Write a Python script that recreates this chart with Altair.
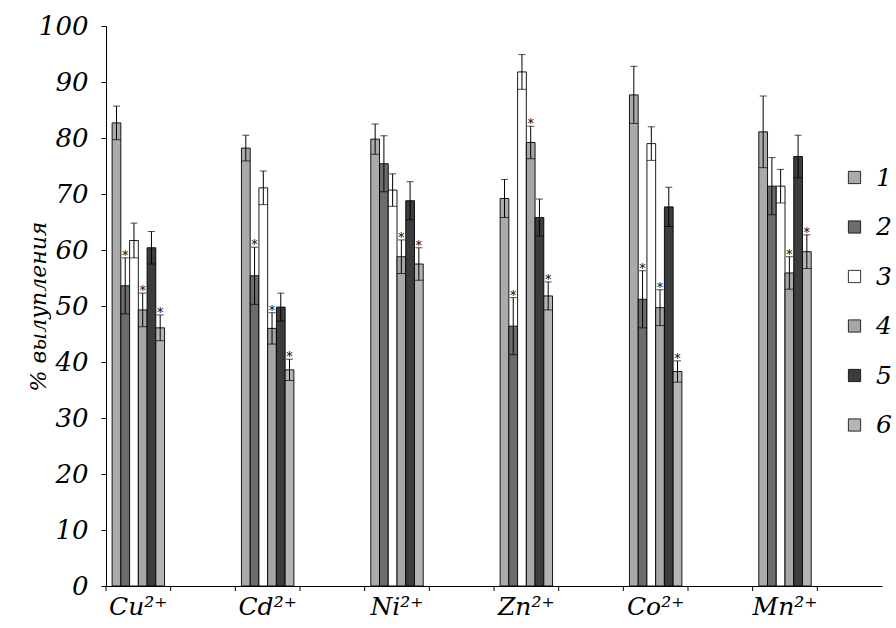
import altair as alt
import pandas as pd

metals = ["Cu²⁺", "Cd²⁺", "Ni²⁺", "Zn²⁺", "Co²⁺", "Mn²⁺"]
series = ["1", "2", "3", "4", "5", "6"]

# values per series across metals (Cu, Cd, Ni, Zn, Co, Mn)
s1 = [82.7, 78.2, 79.8, 69.2, 87.7, 81.1]
s2 = [53.6, 55.4, 75.4, 46.4, 51.2, 71.4]
s3 = [61.7, 71.1, 70.7, 91.8, 79.0, 71.4]
s4 = [49.3, 46.0, 58.8, 79.2, 49.7, 55.9]
s5 = [60.4, 49.8, 68.8, 65.8, 67.7, 76.7]
s6 = [46.1, 38.6, 57.5, 51.8, 38.3, 59.7]

e1 = [3.0, 2.3, 2.7, 3.4, 5.1, 6.4]
e2 = [5.0, 5.1, 5.0, 5.1, 5.1, 5.1]
e3 = [3.1, 3.0, 2.9, 3.1, 3.0, 3.0]
e4 = [3.0, 2.8, 3.0, 2.9, 3.2, 2.9]
e5 = [2.9, 2.5, 3.4, 3.3, 3.5, 3.8]
e6 = [2.3, 1.9, 2.9, 2.5, 1.9, 3.0]

star1 = [0, 0, 0, 0, 0, 0]
star2 = [1, 1, 0, 1, 1, 0]
star3 = [0, 0, 0, 0, 0, 0]
star4 = [1, 1, 1, 1, 1, 1]
star5 = [0, 0, 0, 0, 0, 0]
star6 = [1, 1, 1, 1, 1, 1]

colors = ["#aaaaaa", "#6c6c6c", "#ffffff", "#a6a6a6", "#3c3c3c", "#b4b4b4"]

vals = [s1, s2, s3, s4, s5, s6]
errs = [e1, e2, e3, e4, e5, e6]
stars = [star1, star2, star3, star4, star5, star6]

rows = []
for si, s in enumerate(series):
    for mi, m in enumerate(metals):
        v = vals[si][mi]
        e = errs[si][mi]
        rows.append({"cat": m, "series": s, "val": v,
                     "lo": v - e, "hi": v + e, "star": stars[si][mi]})
df = pd.DataFrame(rows)
df_star = df[df["star"] == 1].copy()

domain = []
for i, m in enumerate(metals):
    domain.append(m)
    domain.append("_" + str(i))
df_ticks = pd.DataFrame({"cat": domain})

FONT = "DejaVu Serif"

xscale = alt.Scale(domain=domain, paddingInner=0, paddingOuter=0)
xenc = alt.X("cat:N", scale=xscale,
             axis=alt.Axis(title=None, labelAngle=0, ticks=False,
                           labelExpr="indexof(datum.value, '_') == 0 ? '' : datum.value",
                           labelFont=FONT, labelFontStyle="italic", labelFontSize=25,
                           labelColor="black", labelPadding=8,
                           domainColor="black", grid=False))
xoff = alt.XOffset("series:N",
                   scale=alt.Scale(domain=series, paddingOuter=0.7, paddingInner=0))

yscale = alt.Scale(domain=[0, 100])
yaxis = alt.Axis(values=list(range(0, 101, 10)), title="% вылупления",
                 titleFont=FONT, titleFontStyle="italic", titleFontSize=22,
                 titleFontWeight="normal", titleColor="black", titlePadding=-12,
                 labelFont=FONT, labelFontStyle="italic", labelFontSize=26,
                 labelColor="black", labelPadding=13, tickSize=5,
                 tickColor="black", domainColor="black", grid=False)

bars = alt.Chart(df).mark_bar(stroke="black", strokeWidth=0.9).encode(
    x=xenc, xOffset=xoff,
    y=alt.Y("val:Q", scale=yscale, axis=yaxis),
    color=alt.Color("series:N",
                    scale=alt.Scale(domain=series, range=colors),
                    legend=alt.Legend(title=" ", titleFontSize=10, titlePadding=129,
                                      orient="right", offset=-40,
                                      symbolType="square", symbolSize=150,
                                      symbolStrokeColor="black", symbolStrokeWidth=0.8,
                                      labelFont=FONT, labelFontStyle="italic",
                                      labelFontSize=25, labelColor="black",
                                      labelOffset=9, rowPadding=23.5, padding=0))
)

rule = alt.Chart(df).mark_rule(color="black", strokeWidth=1).encode(
    x="cat:N", xOffset="series:N",
    y=alt.Y("lo:Q"), y2="hi:Q")
cap_hi = alt.Chart(df).mark_tick(color="black", thickness=1, size=7).encode(
    x="cat:N", xOffset="series:N", y=alt.Y("hi:Q"))
cap_lo = alt.Chart(df).mark_tick(color="black", thickness=1, size=9).encode(
    x="cat:N", xOffset="series:N", y=alt.Y("lo:Q"))
star_text = alt.Chart(df_star).mark_text(text="*", font=FONT, fontSize=12, fill="black",
                                         baseline="alphabetic", dy=2).encode(
    x="cat:N", xOffset="series:N", y=alt.Y("hi:Q"))
xticks = alt.Chart(df_ticks).mark_rule(color="black", strokeWidth=1).encode(
    x=alt.X("cat:N", bandPosition=0), y=alt.value(560), y2=alt.value(565))

chart = alt.layer(bars, rule, cap_hi, cap_lo, star_text, xticks).properties(
    width=776, height=560,
    autosize=alt.AutoSizeParams(type="none"),
    padding={"left": 106, "top": 26, "right": 14, "bottom": 42},
    background="white",
).configure_view(stroke=None)

chart.save("out.html", embed_options={"renderer": "svg", "actions": False})
